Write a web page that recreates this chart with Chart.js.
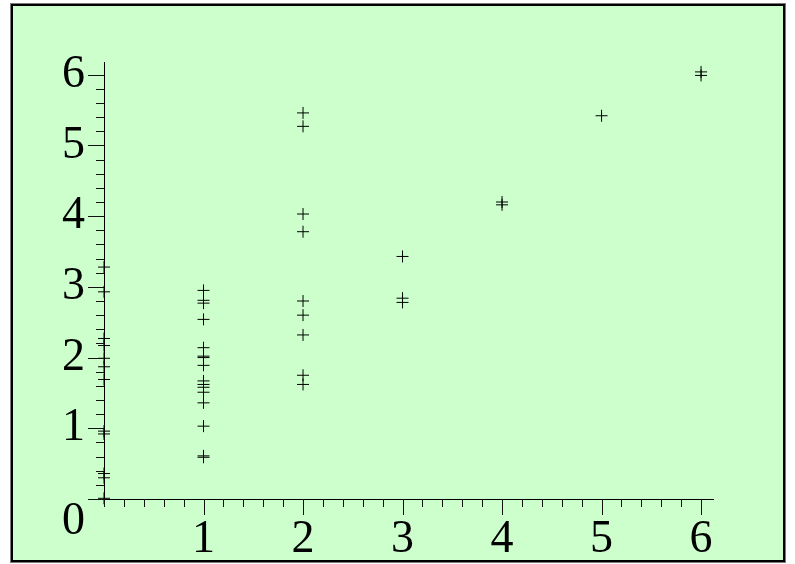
<!DOCTYPE html>
<html>
<head>
<meta charset="utf-8">
<script src="https://cdn.jsdelivr.net/npm/chart.js@4/dist/chart.umd.min.js"></script>
<style>
  html, body { margin: 0; padding: 0; background: #fff; }
  canvas { display: block; }
</style>
</head>
<body>
<canvas id="plot" width="795" height="564"></canvas>
<script>
// y values of the crosses, grouped by their x position
const yAtX0 = [3.28, 2.93, 2.27, 2.17, 1.99, 1.87, 1.69, 0.96, 0.92, 0.36, 0.30, 0.01]
const yAtX1 = [2.95, 2.81, 2.77, 2.54, 2.14, 2.02, 2.00, 1.89, 1.67, 1.62, 1.58, 1.51, 1.36, 1.03, 0.61, 0.59]
const yAtX2 = [5.46, 5.27, 4.03, 3.78, 2.80, 2.60, 2.32, 1.75, 1.62]
const yAtX3 = [3.43, 2.84, 2.78]
const yAtX4 = [4.20, 4.16]
const yAtX5 = [5.42]
const yAtX6 = [6.04, 5.99]

const xTickValues = [0, 1, 2, 3, 4, 5, 6]
const yTickValues = [0, 1, 2, 3, 4, 5, 6]

const groups = [yAtX0, yAtX1, yAtX2, yAtX3, yAtX4, yAtX5, yAtX6]
const points = []
groups.forEach((ys, x) => ys.forEach(y => points.push({x: x, y: y})))

const frame = {
    id: 'frame',
    beforeDraw(chart) {
        const ctx = chart.ctx
        ctx.save()
        ctx.fillStyle = '#ccffcc'
        ctx.fillRect(10, 3, 776, 560)
        ctx.strokeStyle = '#7a7a7a'
        ctx.lineWidth = 1
        ctx.strokeRect(10.5, 3.5, 775, 559)
        ctx.strokeStyle = '#000'
        ctx.lineWidth = 2
        ctx.strokeRect(12, 5, 772, 556)
        ctx.restore()
    }
}

// Maple style tick marks: long at integers, short every 0.2
const tickMarks = {
    id: 'tickMarks',
    afterDatasetsDraw(chart) {
        const {ctx, chartArea, scales} = chart
        ctx.save()
        ctx.strokeStyle = '#111'
        ctx.lineWidth = 1
        ctx.beginPath()
        for (let i = 0; i <= 30; i++) {
            const v = i / 5
            const major = i % 5 === 0
            const px = Math.round(scales.x.getPixelForValue(v)) + 0.5
            const xl = major && i > 0 ? 16 : 8
            ctx.moveTo(px, chartArea.bottom)
            ctx.lineTo(px, chartArea.bottom + xl)
            const py = Math.round(scales.y.getPixelForValue(v)) + 0.5
            const yl = major ? 16 : 8
            ctx.moveTo(chartArea.left - yl, py)
            ctx.lineTo(chartArea.left, py)
        }
        ctx.stroke()
        ctx.restore()
    }
}

const labelFont = {family: '"Liberation Serif", "Times New Roman", serif', size: 46, lineHeight: 1.0}

new Chart(document.getElementById('plot'), {
    type: 'scatter',
    data: {
        datasets: [{
            data: points,
            pointStyle: 'cross',
            pointRadius: 6,
            pointHoverRadius: 6,
            borderColor: '#000',
            backgroundColor: '#000',
            borderWidth: 1,
            clip: false
        }]
    },
    options: {
        responsive: false,
        animation: false,
        devicePixelRatio: 1,
        layout: {
            padding: {left: 44, right: 82, top: 62, bottom: 0}
        },
        plugins: {
            legend: {display: false},
            tooltip: {enabled: false}
        },
        scales: {
            x: {
                type: 'linear',
                min: 0,
                max: 6.12,
                afterBuildTicks: (s) => { s.ticks = xTickValues.map(v => ({value: v})) },
                afterFit: (s) => { s.height = 64 },
                grid: {display: true, drawOnChartArea: false, drawTicks: false},
                border: {display: true, color: '#000', width: 1},
                ticks: {
                    autoSkip: false,
                    maxRotation: 0,
                    padding: 18,
                    color: '#000',
                    font: labelFont,
                    callback: (v) => v === 0 ? '' : String(v)
                }
            },
            y: {
                type: 'linear',
                min: 0,
                max: 6.18,
                afterBuildTicks: (s) => { s.ticks = yTickValues.map(v => ({value: v})) },
                afterFit: (s) => { s.width = 60 },
                grid: {display: true, drawOnChartArea: false, drawTicks: false},
                border: {display: true, color: '#000', width: 1},
                ticks: {
                    autoSkip: false,
                    padding: 19,
                    color: '#000',
                    font: labelFont,
                    // the 0 label sits below the origin, as in the original
                    callback: (v) => v === 0 ? ['', '0'] : String(v)
                }
            }
        }
    },
    plugins: [frame, tickMarks]
})
</script>
</body>
</html>
